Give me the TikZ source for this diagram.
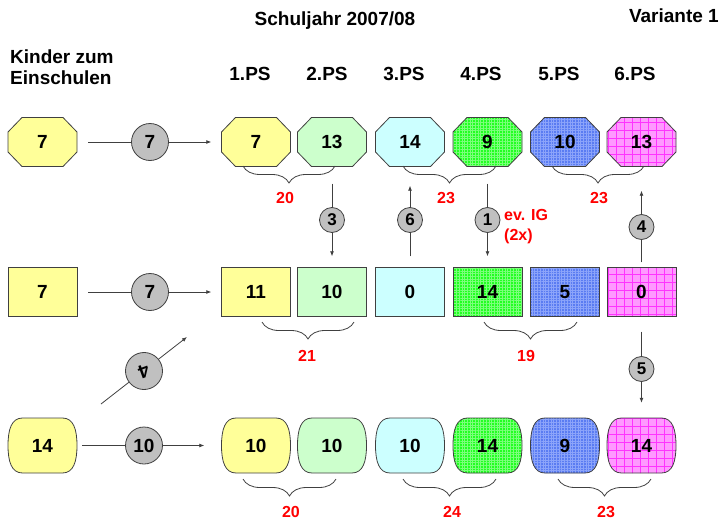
\documentclass[tikz,border=0pt]{standalone}
\usepackage{fontspec}
\setmainfont{Liberation Sans}
\usetikzlibrary{patterns.meta,decorations.pathreplacing,arrows.meta}
\definecolor{cy}{HTML}{FFFF99}
\definecolor{cg}{HTML}{CCFFCC}
\definecolor{cc}{HTML}{CCFFFF}
\definecolor{cgr}{HTML}{22FF22}
\definecolor{cgrl}{HTML}{7CFF7C}
\definecolor{cbl}{HTML}{5A7CF2}
\definecolor{cbll}{HTML}{8CA4FA}
\definecolor{cm}{HTML}{FF99FF}
\definecolor{cml}{HTML}{FF33FF}
\definecolor{ln}{HTML}{404040}
\definecolor{lbl}{HTML}{FF0000}
\definecolor{cir}{HTML}{C0C0C0}
\newcommand\octa[3]{\draw[box,#3,shift={(#1,#2)}] (-34.5,-10) -- (-20.5,-24.5) -- (20.5,-24.5) -- (34.5,-10) -- (34.5,10) -- (20.5,24.5) -- (-20.5,24.5) -- (-34.5,10) -- cycle;}
\newcommand\rect[3]{\draw[box,#3,shift={(#1,#2)}] (-34.5,-24.5) rectangle (34.5,24.5);}
\newcommand\barrel[3]{\draw[box,#3,shift={(#1,#2)}] (-20,-27.5) -- (20,-27.5) .. controls (31,-27.5) and (34.5,-16) .. (34.5,0) .. controls (34.5,16) and (31,27.5) .. (20,27.5) -- (-20,27.5) .. controls (-31,27.5) and (-34.5,16) .. (-34.5,0) .. controls (-34.5,-16) and (-31,-27.5) .. (-20,-27.5) -- cycle;}
\begin{document}
\begin{tikzpicture}[x=1pt,y=-1pt,
 box/.style={draw=ln, line width=0.8pt},
 fy/.style={fill=cy}, fg/.style={fill=cg}, fc/.style={fill=cc},
 fgr/.style={preaction={fill=cgr}, pattern={Hatch[distance=2.7pt,line width=0.4pt]}, pattern color=cgrl},
 fbl/.style={preaction={fill=cbl}, pattern={Hatch[distance=2.7pt,line width=0.4pt]}, pattern color=cbll},
 fm/.style={preaction={fill=cm}, pattern={Hatch[distance=8pt,line width=0.7pt]}, pattern color=cml},
 num/.style={font=\fontsize{19}{21}\selectfont\bfseries, inner sep=0pt, minimum width=69pt, minimum height=49pt},
 numb/.style={num, minimum height=55pt},
 circ/.style={circle, draw=ln, fill=cir, minimum size=37pt, inner sep=0pt, line width=0.8pt, font=\fontsize{19}{21}\selectfont\bfseries},
 scirc/.style={circ, minimum size=25pt, font=\fontsize{17}{19}\selectfont\bfseries},
 arr/.style={draw=ln, line width=0.8pt, -{Latex[length=5pt,width=4pt]}},
 brc/.style={draw=ln, line width=0.8pt, decorate, decoration={brace, mirror, amplitude=17pt}},
 lab/.style={text=lbl, font=\fontsize{16}{20}\selectfont\bfseries, inner sep=0pt},
 head/.style={font=\fontsize{19}{21}\selectfont\bfseries, inner sep=0pt}]
\useasboundingbox (0,0) rectangle (721,522);
% headings
\node[head] (title) at (335,21) {Schuljahr 2007/08};
\node[head, anchor=east] (var) at (719,16) {Variante 1};
\node[head, anchor=west, align=left] (kinder) at (10,67) {Kinder zum\\Einschulen};
\node[head] (h1) at (250,74) {1.PS};
\node[head] (h2) at (327,74) {2.PS};
\node[head] (h3) at (404,74) {3.PS};
\node[head] (h4) at (481,74) {4.PS};
\node[head] (h5) at (559,74) {5.PS};
\node[head] (h6) at (635,74) {6.PS};
% top row
\octa{42.5}{142}{fy}\node[num] (l1) at (42.5,142) {7};
\octa{256}{142}{fy}\node[num] (t1) at (256,142) {7};
\octa{332}{142}{fg}\node[num] (t2) at (332,142) {13};
\octa{410}{142}{fc}\node[num] (t3) at (410,142) {14};
\octa{487.5}{142}{fgr}\node[num] (t4) at (487.5,142) {9};
\octa{565}{142}{fbl}\node[num] (t5) at (565,142) {10};
\octa{641.5}{142}{fm}\node[num] (t6) at (641.5,142) {13};
% middle row
\rect{42.5}{292}{fy}\node[num] (l2) at (42.5,292) {7};
\rect{256}{292}{fy}\node[num] (m1) at (256,292) {11};
\rect{332}{292}{fg}\node[num] (m2) at (332,292) {10};
\rect{410}{292}{fc}\node[num] (m3) at (410,292) {0};
\rect{487.5}{292}{fgr}\node[num] (m4) at (487.5,292) {14};
\rect{565}{292}{fbl}\node[num] (m5) at (565,292) {5};
\rect{641.5}{292}{fm}\node[num] (m6) at (641.5,292) {0};
% bottom row
\barrel{42.5}{445.5}{fy}\node[numb] (l3) at (42.5,445.5) {14};
\barrel{256}{445.5}{fy}\node[numb] (b1) at (256,445.5) {10};
\barrel{332}{445.5}{fg}\node[numb] (b2) at (332,445.5) {10};
\barrel{410}{445.5}{fc}\node[numb] (b3) at (410,445.5) {10};
\barrel{487.5}{445.5}{fgr}\node[numb] (b4) at (487.5,445.5) {14};
\barrel{565}{445.5}{fbl}\node[numb] (b5) at (565,445.5) {9};
\barrel{641.5}{445.5}{fm}\node[numb] (b6) at (641.5,445.5) {14};
% horizontal arrows
\draw[arr, shorten <=11pt, shorten >=10pt] (l1.east) -- (t1.west);
\node[circ] (c1) at (150,142) {7};
\draw[arr, shorten <=11pt, shorten >=10pt] (l2.east) -- (m1.west);
\node[circ] (c2) at (150,292) {7};
\draw[arr, shorten <=5pt, shorten >=17pt] (l3.east) -- (b1.west);
\node[circ] (c3) at (144,445.5) {10};
% vertical arrows
\draw[arr, shorten <=17pt, shorten >=11pt] (t2.south) -- (m2.north);
\node[scirc] (v3) at (332,220) {3};
\draw[arr, shorten <=11pt, shorten >=19pt] (m3.north) -- (t3.south);
\node[scirc] (v6) at (410,220) {6};
\draw[arr, shorten <=17pt, shorten >=11pt] (t4.south) -- (m4.north);
\node[scirc] (v1) at (487.5,220) {1};
\node[lab, anchor=west, align=left] (ig) at (504,227) {ev. IG\\(2x)};
\draw[arr, shorten <=5pt, shorten >=24pt] (m6.north) -- (t6.south);
\node[scirc] (v4) at (641.5,227) {4};
\draw[arr, shorten <=15pt, shorten >=15pt] (m6.south) -- (b6.north);
\node[scirc] (v5) at (641.5,369) {5};
% diagonal
\coordinate (d1) at (101,404);
\coordinate (d2) at (187,337);
\draw[arr] (d1) -- (d2);
\node[circ, rotate=200] (vd) at (144,371) {4};
% braces
\draw[brc] (243,166) -- (335,166);
\node[lab] (s1) at (285,198) {20};
\draw[brc] (403,166) -- (496,166);
\node[lab] (s2) at (446,198) {23};
\draw[brc] (552,166) -- (644,166);
\node[lab] (s3) at (599,198) {23};
\draw[brc] (262,322) -- (354,322);
\node[lab] (s4) at (307,356) {21};
\draw[brc] (484,322) -- (577,322);
\node[lab] (s5) at (526,356) {19};
\draw[brc] (243,479) -- (336,479);
\node[lab] (s6) at (291,512) {20};
\draw[brc] (403,479) -- (496,479);
\node[lab] (s7) at (452,512) {24};
\draw[brc] (558,479) -- (651,479);
\node[lab] (s8) at (606,512) {23};
\end{tikzpicture}
\end{document}
